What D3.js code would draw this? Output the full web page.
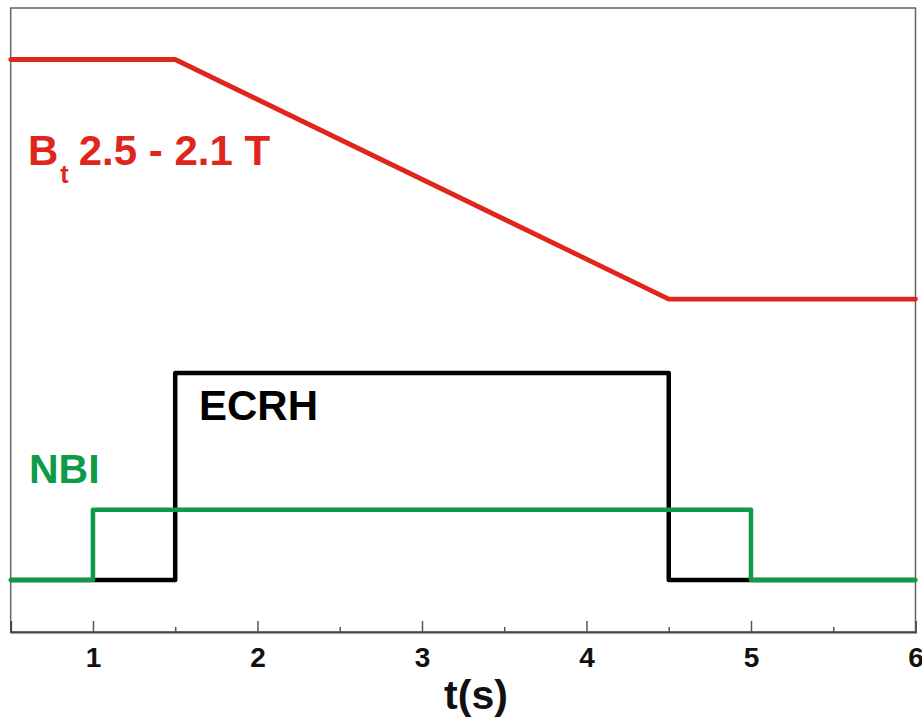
<!DOCTYPE html>
<html>
<head>
<meta charset="utf-8">
<script src="https://cdn.jsdelivr.net/npm/d3@7"></script>
<style>
  html, body { margin: 0; padding: 0; background: #fff; }
  svg { display: block; font-family: "Liberation Sans", Arial, Helvetica, sans-serif; }
</style>
</head>
<body>
<svg id="chart" width="922" height="720"></svg>
<script>
// Toroidal field ramp (T) against time (s)
const btTime  = [0.5, 1.5, 4.5, 6];
const btField = [2.5, 2.5, 2.1, 2.1];

// Heating waveforms (a.u.), step-after between change points
const ecrhTime  = [0.5, 1.5, 4.5, 6];
const ecrhPower = [0, 1, 0, 0];
const nbiTime   = [0.5, 1, 5, 6];
const nbiPower  = [0, 0.34, 0, 0];

const majorTicks = [1, 2, 3, 4, 5, 6];
const minorTicks = [1.5, 2.5, 3.5, 4.5, 5.5];

const svg = d3.select("#chart");
const plotLeft = 10.7, plotRight = 915.5, plotTop = 8, plotBottom = 632;

const x = d3.scaleLinear().domain([0.5, 6]).range([plotLeft, plotRight]);
const yB = d3.scaleLinear().domain([1.544, 2.586]).range([plotBottom, plotTop]);
const yP = d3.scaleLinear().domain([-0.251, 2.763]).range([plotBottom, plotTop]);

// frame
svg.append("rect")
  .attr("x", plotLeft).attr("y", plotTop)
  .attr("width", plotRight - plotLeft).attr("height", plotBottom - plotTop)
  .attr("fill", "none").attr("stroke", "#666").attr("stroke-width", 1.5);

// bottom axis with inward ticks
const axis = svg.append("g").attr("transform", `translate(0,${plotBottom})`);
axis.append("g")
  .call(d3.axisBottom(x).tickValues(minorTicks).tickSize(-5).tickFormat(""))
  .call(g => g.select(".domain").remove())
  .call(g => g.selectAll("line").attr("stroke", "#555").attr("stroke-width", 1.5));
axis.append("g")
  .call(d3.axisBottom(x).tickValues(majorTicks).tickSize(-11).tickPadding(0).tickFormat(d3.format("d")))
  .call(g => g.select(".domain").attr("stroke", "#444").attr("stroke-width", 1.8))
  .call(g => g.selectAll("line").attr("stroke", "#555").attr("stroke-width", 1.5))
  .call(g => g.selectAll("text")
    .attr("y", 35).attr("dy", null)
    .attr("fill", "#111").attr("font-size", 28).attr("font-weight", "bold")
    .attr("font-family", "'Liberation Sans', Arial, sans-serif"));

svg.append("text")
  .attr("x", 476).attr("y", 709)
  .attr("text-anchor", "middle")
  .attr("font-size", 41).attr("font-weight", "bold").attr("fill", "#111")
  .text("t(s)");

// traces
const lineB = d3.line().x(d => x(d[0])).y(d => yB(d[1]));
const stepP = d3.line().x(d => x(d[0])).y(d => yP(d[1])).curve(d3.curveStepAfter);

svg.append("path")
  .datum(d3.zip(ecrhTime, ecrhPower))
  .attr("d", stepP)
  .attr("fill", "none").attr("stroke", "#000").attr("stroke-width", 4.5)
  .attr("stroke-linejoin", "round");

svg.append("path")
  .datum(d3.zip(nbiTime, nbiPower))
  .attr("d", stepP)
  .attr("fill", "none").attr("stroke", "#0e9a48").attr("stroke-width", 4.5)
  .attr("stroke-linejoin", "round").attr("stroke-linecap", "round");

svg.append("path")
  .datum(d3.zip(btTime, btField))
  .attr("d", lineB)
  .attr("fill", "none").attr("stroke", "#e0251d").attr("stroke-width", 4.8)
  .attr("stroke-linejoin", "round").attr("stroke-linecap", "round");

// labels
const bt = svg.append("text")
  .attr("x", 28).attr("y", 165)
  .attr("font-size", 42).attr("font-weight", "bold").attr("fill", "#e0251d");
bt.append("tspan").text("B");
bt.append("tspan").attr("font-size", 25).attr("dy", 18).attr("dx", 2).text("t");
bt.append("tspan").attr("dy", -18).attr("dx", 10).text("2.5 - 2.1 T");

svg.append("text")
  .attr("x", 199).attr("y", 420)
  .attr("font-size", 42).attr("font-weight", "bold").attr("fill", "#000")
  .text("ECRH");

svg.append("text")
  .attr("x", 29).attr("y", 483)
  .attr("font-size", 41).attr("font-weight", "bold").attr("fill", "#0e9a48")
  .text("NBI");
</script>
</body>
</html>
